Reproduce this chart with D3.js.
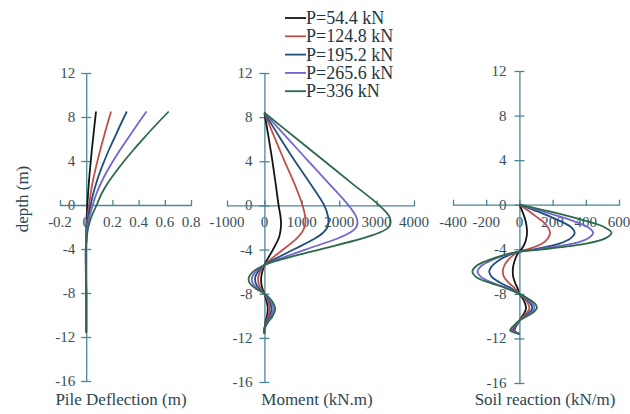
<!DOCTYPE html>
<html>
<head>
<meta charset="utf-8">
<script src="https://cdn.jsdelivr.net/npm/d3@7"></script>
<style>
  html, body { margin: 0; padding: 0; background: #ffffff; }
  svg { display: block; }
  svg text { font-family: "Liberation Serif", "Times New Roman", Times, "DejaVu Serif", serif; }
</style>
</head>
<body>
<svg id="chart" width="630" height="414"></svg>
<script>
// Lateral loads applied at the pile head
const loads = ["P=54.4 kN", "P=124.8 kN", "P=195.2 kN", "P=265.6 kN", "P=336 kN"];
const colors = ["#141414", "#c0504d", "#1f4f7c", "#7466d0", "#2c6a48"];

// Pile deflection (m) versus depth (m)
const defDepth = [8.5, 7, 6, 5, 4, 3, 2, 1, 0, -1, -2, -3, -4, -6, -8, -10, -11.6];
const defValues = [
  [0.075, 0.061, 0.052, 0.043, 0.035, 0.027, 0.020, 0.014, 0.009, 0.004, 0.001, 0, -0.001, -0.001, 0, 0, 0],
  [0.19, 0.153, 0.130, 0.107, 0.086, 0.066, 0.048, 0.034, 0.022, 0.011, 0.004, 0.001, -0.001, -0.001, 0, 0, 0],
  [0.31, 0.250, 0.212, 0.173, 0.138, 0.105, 0.077, 0.053, 0.034, 0.017, 0.006, 0.001, -0.002, -0.002, 0, 0, 0],
  [0.46, 0.372, 0.315, 0.258, 0.205, 0.156, 0.113, 0.077, 0.050, 0.026, 0.010, 0.002, -0.003, -0.002, 0, 0, 0],
  [0.63, 0.510, 0.434, 0.360, 0.290, 0.225, 0.165, 0.116, 0.080, 0.042, 0.016, 0.004, -0.003, -0.003, 0, 0, 0]
];

// Bending moment (kN.m) versus depth (m)
const momDepth = [8.4, 6, 4, 2, 0, -1, -1.6, -2, -2.5, -3, -4, -5, -5.4, -6, -6.5, -7, -7.5, -8, -8.5, -9, -9.4, -10, -10.5, -11.2, -11.6];
const momValues = [
  [0, 120, 215, 300, 380, 430, 445, 440, 420, 380, 230, 60, 0, -55, -85, -85, -55, 0, 45, 80, 90, 70, 35, 0, 0],
  [0, 290, 540, 800, 1020, 1090, 1095, 1070, 990, 860, 500, 130, 0, -110, -165, -160, -100, 0, 75, 125, 140, 110, 55, 0, 0],
  [0, 440, 820, 1220, 1600, 1700, 1710, 1680, 1560, 1350, 780, 200, 0, -170, -245, -235, -150, 0, 105, 170, 190, 150, 75, 0, 0],
  [0, 640, 1180, 1720, 2250, 2450, 2490, 2450, 2270, 1950, 1100, 280, 0, -230, -330, -320, -200, 0, 135, 215, 240, 185, 95, 0, 0],
  [0, 880, 1610, 2340, 3075, 3340, 3370, 3320, 3050, 2600, 1470, 340, 0, -300, -415, -400, -245, 0, 165, 260, 290, 225, 115, 0, 0]
];

// Soil reaction (kN/m) versus depth (m)
const srDepth = [0, -0.5, -1, -1.5, -2, -2.5, -3, -3.5, -4, -4.2, -4.5, -5, -5.5, -6, -6.5, -7, -7.5, -8, -8.5, -9, -9.3, -9.7, -10, -10.4, -10.8, -11.1, -11.3, -11.6];
const srValues = [
  [0, 15, 28, 38, 44, 46, 42, 32, 12, 0, -14, -28, -37, -40, -37, -26, -11, 0, 23, 37, 40, 30, 17, 0, -15, -27, -30, 0],
  [0, 50, 95, 140, 170, 185, 172, 135, 48, 0, -35, -70, -92, -100, -92, -65, -28, 0, 35, 56, 60, 45, 25, 0, -18, -32, -35, 0],
  [0, 90, 175, 250, 310, 333, 310, 240, 85, 0, -60, -125, -165, -182, -165, -115, -50, 0, 45, 72, 77, 58, 32, 0, -22, -37, -40, 0],
  [0, 120, 230, 330, 410, 444, 415, 320, 110, 0, -80, -170, -230, -252, -230, -160, -70, 0, 52, 85, 90, 68, 38, 0, -25, -42, -45, 0],
  [0, 150, 290, 410, 510, 555, 520, 400, 140, 0, -90, -190, -260, -283, -260, -180, -80, 0, 60, 100, 105, 80, 45, 0, -30, -50, -55, 0]
];

// Axis ticks
const depthTicks = [12, 8, 4, 0, -4, -8, -12, -16];
const defTicks = [-0.2, 0, 0.2, 0.4, 0.6, 0.8];
const defTickLabels = ["-0.2", "0", "0.2", "0.4", "0.6", "0.8"];
const momTicks = [-1000, 0, 1000, 2000, 3000, 4000];
const momTickLabels = ["-1000", "0", "1000", "2000", "3000", "4000"];
const srTicks = [-400, -200, 0, 200, 400, 600];
const srTickLabels = ["-400", "-200", "0", "200", "400", "600"];

const serif = "'Liberation Serif', 'Times New Roman', Times, 'DejaVu Serif', serif";
const axisColor = "#4a8797";
const labelColor = "#34505a";

const svg = d3.select("#chart");

function panel(cfg) {
  const x = d3.scaleLinear().domain([cfg.ticks[0], cfg.ticks[cfg.ticks.length - 1]]).range(cfg.xRange);
  const y = d3.scaleLinear().domain([-16, 12]).range(cfg.yRange);
  const g = svg.append("g");

  // tick labels (drawn first so the axis lines cross the zero labels)
  g.selectAll("text.xl").data(cfg.ticks).join("text")
    .attr("x", d => x(d)).attr("y", y(0) + 22)
    .attr("text-anchor", "middle").attr("font-family", serif)
    .attr("font-size", 15).attr("fill", labelColor)
    .text((d, i) => cfg.labels[i]);
  g.selectAll("text.yl").data(depthTicks).join("text")
    .attr("x", x(0) - cfg.yLabelGap).attr("y", d => y(d) + 5)
    .attr("text-anchor", "end").attr("font-family", serif)
    .attr("font-size", 15).attr("fill", labelColor)
    .text(d => d);

  // x axis along depth 0 with crossing ticks
  const xAxis = d3.axisBottom(x).tickValues(cfg.ticks).tickSizeInner(5).tickSizeOuter(0).tickFormat("");
  const gx = g.append("g").attr("transform", `translate(0,${y(0)})`).call(xAxis);
  gx.selectAll(".tick line").attr("y1", -5).attr("y2", 1);
  // depth axis through value 0
  const yAxis = d3.axisLeft(y).tickValues(depthTicks).tickSizeInner(5).tickSizeOuter(0).tickFormat("");
  const gy = g.append("g").attr("transform", `translate(${x(0)},0)`).call(yAxis);
  gy.selectAll(".tick line").attr("x1", -5).attr("x2", 5);
  g.selectAll(".domain, .tick line").attr("stroke", axisColor).attr("stroke-width", 1.3);

  // curves
  const line = d3.line()
    .x(d => x(d[0])).y(d => y(d[1]))
    .curve(d3.curveCatmullRom.alpha(0.5));
  cfg.values.forEach((vals, i) => {
    const pts = vals.map((v, k) => [v, cfg.depth[k]]);
    g.append("path").attr("d", line(pts))
      .attr("fill", "none").attr("stroke", colors[i])
      .attr("stroke-width", 1.8).attr("stroke-linejoin", "round");
  });

  g.append("text").attr("x", cfg.titleX).attr("y", 405)
    .attr("text-anchor", "middle").attr("font-family", serif)
    .attr("font-size", 17).attr("fill", "#2c4550")
    .text(cfg.title);
}

panel({ ticks: defTicks, labels: defTickLabels, xRange: [60, 191], yRange: [381, 73],
  depth: defDepth, values: defValues, title: "Pile Deflection (m)", titleX: 121, yLabelGap: 11 });
panel({ ticks: momTicks, labels: momTickLabels, xRange: [227, 414], yRange: [382, 73],
  depth: momDepth, values: momValues, title: "Moment (kN.m)", titleX: 317, yLabelGap: 12 });
panel({ ticks: srTicks, labels: srTickLabels, xRange: [453, 619], yRange: [383, 71],
  depth: srDepth, values: srValues, title: "Soil reaction (kN/m)", titleX: 545, yLabelGap: 13 });

// vertical axis title
svg.append("text").attr("transform", "translate(28,199) rotate(-90)")
  .attr("text-anchor", "middle").attr("font-family", serif)
  .attr("font-size", 17).attr("fill", "#2c4550")
  .text("depth (m)");

// legend
const legend = svg.append("g");
loads.forEach((name, i) => {
  const yy = 18 + i * 18.3;
  legend.append("line").attr("x1", 285).attr("x2", 306).attr("y1", yy).attr("y2", yy)
    .attr("stroke", colors[i]).attr("stroke-width", 1.8);
  legend.append("text").attr("x", 306).attr("y", yy + 6)
    .attr("font-family", serif)
    .attr("font-size", 18).attr("fill", "#1f3540").text(name);
});
</script>
</body>
</html>
